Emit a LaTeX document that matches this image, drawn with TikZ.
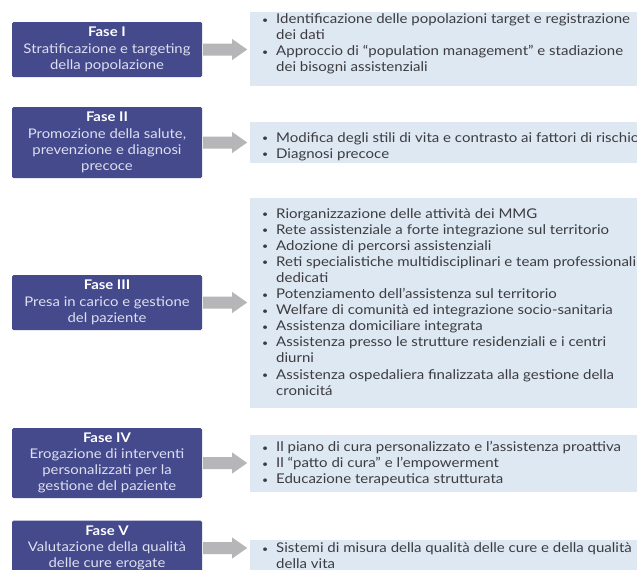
\documentclass[tikz,border=0pt]{standalone}
\usepackage{fontspec}
\setmainfont{Lato}[FakeStretch=1.12]
\usepackage{graphicx}
\definecolor{fasecol}{RGB}{68,74,140}
\definecolor{fasetxt}{RGB}{222,224,240}
\definecolor{listbg}{RGB}{222,232,242}
\definecolor{listtxt}{RGB}{60,60,64}
\definecolor{arrowcol}{RGB}{182,182,184}
\newcommand\bul{\makebox[15pt][l]{\hspace*{1pt}\raisebox{0.4pt}{\scalebox{0.7}{\textbullet}}}}
\newcommand\ind{\hspace*{15pt}}
\newcommand\ttl[1]{{\color{white}\bfseries #1}}
\begin{document}
\begin{tikzpicture}[x=1pt,y=-1pt,
  lbox/.style={rectangle, rounded corners=1.5pt, fill=fasecol, minimum width=190pt, inner sep=0pt, align=center,
    text=fasetxt, font=\fontsize{13.3}{16.2}\selectfont},
  rbox/.style={rectangle, fill=listbg, minimum width=395pt, inner sep=0pt, anchor=north west},
  rtext/.style={anchor=north west, inner sep=0pt, align=left, text=listtxt,
    font=\fontsize{13.4}{16.1}\selectfont},
  blockarrow/.style={fill=arrowcol}
]
\useasboundingbox (0,0) rectangle (637,570);
\fill[white] (0,0) rectangle (637,570);

% left boxes
\node[lbox, minimum height=55pt] (L1) at (107,49.5) {\ttl{Fase I}\\Stratificazione e targeting\\della popolazione};
\node[lbox, minimum height=71pt] (L2) at (107,142.5) {\ttl{Fase II}\\Promozione della salute,\\prevenzione e diagnosi\\precoce};
\node[lbox, minimum height=55pt] (L3) at (107,302.5) {\ttl{Fase III}\\Presa in carico e gestione\\del paziente};
\node[lbox, minimum height=70pt] (L4) at (107,463) {\ttl{Fase IV}\\Erogazione di interventi\\personalizzati per la\\gestione del paziente};
\node[lbox, minimum height=55pt] (L5) at (107,548) {\ttl{Fase V}\\Valutazione della qualità\\delle cure erogate};

% right boxes
\node[rbox, minimum height=74pt] (R1) at (250,12) {};
\node[rbox, minimum height=41pt] (R2) at (250,122) {};
\node[rbox, minimum height=210pt] (R3) at (250,198) {};
\node[rbox, minimum height=57pt] (R4) at (250,435) {};
\node[rbox, minimum height=38pt] (R5) at (250,540) {};

% texts
\node[rtext] (T1) at (261,13.5) {\bul Identificazione delle popolazioni target e registrazione\\\ind dei dati\\\bul Approccio di “population management” e stadiazione\\\ind dei bisogni assistenziali};
\node[rtext] (T2) at (261,132) {\bul Modifica degli stili di vita e contrasto ai fattori di rischio\\\bul Diagnosi precoce};
\node[rtext] (T3) at (261,208) {\bul Riorganizzazione delle attività dei MMG\\
\bul Rete assistenziale a forte integrazione sul territorio\\
\bul Adozione di percorsi assistenziali\\
\bul Reti specialistiche multidisciplinari e team professionali\\
\ind dedicati\\
\bul Potenziamento dell’assistenza sul territorio\\
\bul Welfare di comunità ed integrazione socio-sanitaria\\
\bul Assistenza domiciliare integrata\\
\bul Assistenza presso le strutture residenziali e i centri\\
\ind diurni\\
\bul Assistenza ospedaliera finalizzata alla gestione della\\
\ind cronicitá};
\node[rtext] (T4) at (261,441) {\bul Il piano di cura personalizzato e l’assistenza proattiva\\\bul Il “patto di cura” e l’empowerment\\\bul Educazione terapeutica strutturata};
\node[rtext] (T5) at (261,542.5) {\bul Sistemi di misura della qualità delle cure e della qualità\\\ind della vita};

% block arrows
\foreach \i in {1,...,5}{
  \fill[blockarrow] ([xshift=1pt]L\i.east) ++(0,-6) -- ++(29,0) -- ++(0,-4.5) -- ++(15,10.5)
    -- ++(-15,10.5) -- ++(0,-4.5) -- ++(-29,0) -- cycle;
}
\end{tikzpicture}
\end{document}
